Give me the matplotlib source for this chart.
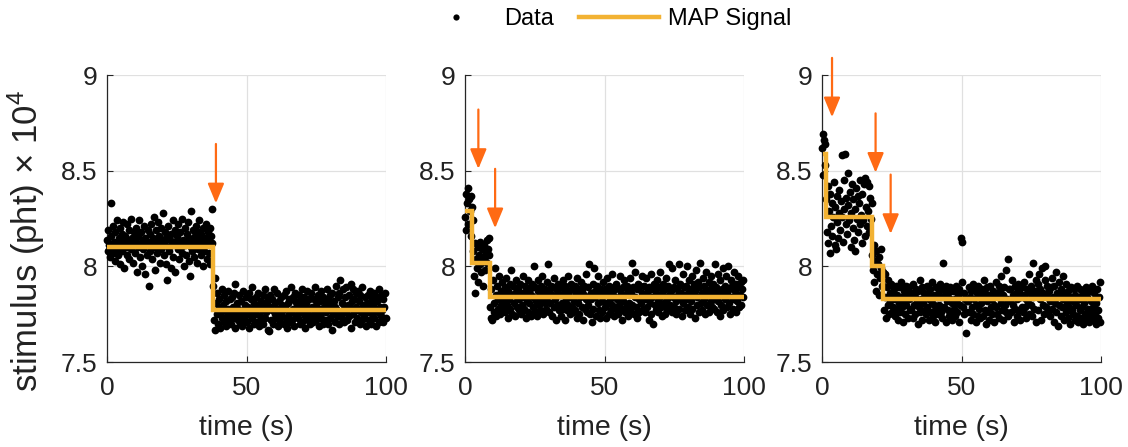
import numpy as np
import matplotlib
matplotlib.use("Agg")
import matplotlib.pyplot as plt

plt.rcParams['font.family'] = ['Liberation Sans', 'DejaVu Sans']
plt.rcParams['mathtext.fontset'] = 'custom'
plt.rcParams['mathtext.rm'] = 'Liberation Sans'
plt.rcParams['mathtext.it'] = 'Liberation Sans:italic'

# sampling period of the recordings (s)
dt = 0.25

# stimulus samples, in units of 1e2 (x 1e4 pht on the axis)
data_1 = [
    814, 808, 819, 811, 805, 816, 833, 810, 807, 821, 813, 803, 818, 809, 824, 812, 806, 815, 820, 801,
    811, 817, 808, 823, 813, 799, 816, 810, 822, 806, 814, 819, 804, 812, 825, 809, 815, 802, 818, 811,
    807, 820, 813, 797, 816, 810, 824, 805, 812, 818, 800, 814, 809, 821, 796, 815, 811, 806, 819, 813,
    790, 817, 808, 822, 812, 804, 815, 826, 810, 798, 819, 813, 807, 823, 811, 816, 802, 820, 809, 814,
    828, 806, 812, 818, 801, 815, 793, 810, 821, 808, 814, 799, 817, 811, 824, 805, 813, 819, 797, 812,
    816, 809, 822, 804, 813, 818, 810, 825, 807, 814, 800, 820, 811, 806, 817, 812, 823, 803, 815, 795,
    810, 829, 808, 819, 813, 805, 816, 821, 811, 802, 818, 809, 824, 814, 806, 817, 812, 800, 820, 808,
    815, 811, 822, 804, 818, 813, 807, 820, 801, 816, 830, 812,
    790, 772, 794, 767, 781, 775, 786, 770, 779, 783, 768, 776, 788, 773, 780, 771, 785, 777, 769, 782,
    774, 787, 778, 771, 783, 776, 770, 784, 779, 773, 786, 768, 791, 775, 781, 772, 778, 785, 770, 776,
    782, 774, 769, 787, 777, 780, 772, 784, 775, 771, 779, 786, 768, 776, 783, 773, 789, 778, 770, 781,
    775, 784, 771, 778, 786, 769, 780, 774, 782, 772, 777, 785, 770, 779, 788, 773, 776, 781, 767, 783,
    766, 779, 785, 772, 777, 783, 770, 788, 775, 781, 773, 778, 786, 769, 782, 776, 771, 784, 774, 780,
    777, 770, 785, 779, 773, 787, 768, 781, 775, 783, 771, 789, 776, 772, 784, 778, 769, 782, 786, 774,
    780, 773, 777, 785, 770, 782, 776, 788, 771, 779, 784, 774, 768, 781, 787, 775, 772, 783, 778, 770,
    786, 774, 779, 771, 783, 777, 789, 772, 780, 775, 785, 769, 778, 782, 773, 787, 776, 770, 784, 779,
    772, 781, 776, 788, 770, 783, 778, 785, 773, 780, 767, 786, 775, 782, 771, 779, 790, 774, 777, 784,
    770, 786, 793, 775, 781, 773, 788, 778, 771, 784, 776, 789, 772, 780, 785, 774, 779, 791, 768, 782,
    788, 775, 783, 771, 786, 779, 773, 787, 777, 782, 770, 785, 776, 789, 772, 780, 774, 784, 778, 769,
    781, 776, 785, 772, 779, 787, 770, 783, 775, 780, 786, 773, 778, 784, 769, 782, 776, 788, 771, 779,
    774, 785, 777, 771, 783, 779, 786, 773,
]

data_2 = [
    826, 838, 819, 833, 841, 822, 835, 829, 816, 837, 831, 824,
    808, 795, 812, 786, 804, 799, 810, 792, 806, 801, 813, 797, 809, 803, 790, 811, 805, 798, 807, 814,
    802, 809, 815, 806,
    779, 773, 788, 772, 793, 781, 776, 799, 785, 774, 790, 778, 783, 795, 775, 787, 780, 792, 777, 786,
    782, 789, 776, 794, 780, 773, 787, 783, 791, 778, 798, 785, 775, 790, 781, 786, 774, 793, 779, 784,
    788, 777, 783, 791, 775, 786, 780, 795, 778, 784, 790, 773, 787, 782, 776, 793, 781, 788, 774, 785,
    791, 779, 784, 800, 776, 789, 782, 774, 787, 793, 780, 785, 777, 790, 783, 795, 775, 786, 781, 788,
    778, 792, 784, 801, 776, 787, 781, 790, 774, 785, 789, 779, 794, 783, 772, 788, 780, 786, 791, 777,
    785, 774, 789, 781, 793, 778, 786, 772, 790, 783, 777, 795, 780, 787, 775, 784, 791, 779, 788, 776,
    782, 790, 777, 786, 773, 794, 781, 788, 775, 784, 792, 779, 787, 772, 785, 790, 778, 783, 796, 776,
    789, 780, 801, 775, 786, 783, 771, 791, 778, 799, 784, 787, 774, 790, 781, 795, 777, 785, 773, 788,
    782, 776, 792, 785, 779, 788, 773, 794, 781, 786, 775, 790, 783, 777, 796, 780, 787, 774, 789, 784,
    778, 791, 783, 775, 788, 780, 795, 777, 786, 772, 789, 782, 793, 776, 785, 779, 790, 774, 787, 781,
    794, 777, 786, 802, 780, 789, 775, 784, 797, 779, 788, 773, 791, 783, 776, 790, 781, 786, 795, 778,
    785, 790, 776, 783, 794, 779, 787, 772, 789, 781, 796, 775, 784, 788, 770, 791, 780, 786, 777, 793,
    782, 776, 789, 784, 797, 779, 786, 774, 791, 781, 788, 775, 794, 783, 778, 790, 785, 801, 780, 787,
    776, 799, 784, 789, 779, 793, 782, 775, 788, 785, 801, 778, 791, 783, 786, 774, 796, 781, 789, 777,
    790, 783, 800, 779, 786, 793, 775, 788, 782, 795, 778, 785, 791, 773, 787, 798, 780, 784, 792, 776,
    789, 802, 781, 786, 777, 794, 783, 790, 775, 787, 797, 780, 785, 792, 776, 788, 782, 795, 779, 786,
    791, 778, 801, 784, 789, 776, 796, 782, 787, 774, 793, 780, 788, 799, 777, 785, 790, 783, 795, 779,
    786, 800, 781, 788, 775, 793, 784, 790, 778, 797, 783, 787, 776, 791, 782, 795, 779, 789, 785, 792,
    780, 788, 793, 784,
]

data_3 = [
    862, 869, 848, 866, 853, 864,
    835, 818, 842, 812, 829, 807, 838, 821, 833, 816,
    826, 844, 811, 831, 809, 837, 823, 815, 840, 828,
    819, 834, 858, 826, 813, 845, 830, 859, 822, 836,
    817, 832, 849, 824, 839, 810, 828, 843, 820, 835,
    814, 830, 808, 841, 825, 837, 818, 833, 822, 845,
    827, 812, 838, 824, 843, 816, 846, 831, 821, 844,
    829, 842, 818, 836, 825, 833,
    806, 798, 811, 792, 803, 787, 808, 796, 801, 785, 805, 794, 809, 799, 790, 797,
    790, 777, 796, 784, 773, 789, 780, 793, 775, 786, 782, 791, 776, 785, 779, 788, 774, 783, 790, 778,
    785, 772, 789, 781, 776, 792, 779, 784, 771, 787, 782, 775, 790, 780, 786, 773, 783, 789, 777, 784,
    778, 786, 773, 791, 780, 784, 775, 788, 782, 770, 787, 779, 793, 776, 783, 789, 772, 781, 786, 777,
    784, 775, 790, 779, 786, 772, 783, 788, 776, 781, 792, 774, 785, 780, 771, 789, 778, 784, 775, 787,
    780, 791, 776, 784, 773, 788, 802, 779, 785, 771, 790, 782, 777, 786, 774, 783, 789, 776, 781, 772,
    787, 778, 783, 774, 790, 781, 776, 785, 771, 788, 780, 815, 813, 792, 779, 786, 775, 783, 776, 765,
    782, 782, 789, 776, 784, 772, 787, 779, 791, 775, 783, 788, 771, 780, 786, 774, 790, 778, 785, 773,
    781, 788, 774, 784, 793, 777, 786, 770, 782, 789, 776, 785, 772, 790, 779, 783, 775, 787, 780, 771,
    786, 779, 792, 775, 784, 790, 773, 787, 781, 795, 777, 785, 772, 789, 780, 798, 776, 783, 804, 774,
    788, 782, 788, 776, 793, 780, 785, 771, 790, 778, 786, 774, 783, 791, 777, 787, 772, 784, 779, 789,
    776, 785, 792, 779, 783, 773, 788, 781, 796, 775, 786, 780, 790, 774, 784, 802, 778, 787, 793, 771,
    785, 791, 777, 796, 783, 788, 772, 799, 780, 786, 775, 793, 800, 779, 784, 790, 776, 787, 782, 774,
    789, 778, 794, 784, 771, 790, 781, 797, 776, 786, 769, 792, 780, 785, 774, 788, 779, 795, 783, 772,
    786, 776, 791, 781, 773, 787, 779, 784, 770, 789, 777, 782, 775, 788, 772, 785, 780, 774, 790, 771,
    783, 777, 788, 773, 785, 779, 770, 786, 781, 775, 789, 772, 784, 778, 771, 787, 776, 782, 774, 790,
    779, 772, 786, 775, 781, 770, 788, 777, 773, 784, 771, 792,
]

# MAP step estimates: change-point times and the level between them
map_edges_1 = [0, 38, 100]
map_levels_1 = [8.10, 7.77]
map_edges_2 = [0, 2.7, 9.0, 100]
map_levels_2 = [8.29, 8.02, 7.84]
map_edges_3 = [0.5, 1.6, 18, 22, 100]
map_levels_3 = [8.59, 8.26, 8.00, 7.83]

# detected change points marked by arrows: (time, arrow top, arrow tip)
arrows_1 = [(39, 8.64, 8.33)]
arrows_2 = [(4.8, 8.82, 8.51), (10.8, 8.51, 8.20)]
arrows_3 = [(3.6, 9.09, 8.78), (19.2, 8.80, 8.49), (24.6, 8.48, 8.17)]

x_ticks = [0, 50, 100]
y_ticks = [7.5, 8, 8.5, 9]

panels = [
    (data_1, map_edges_1, map_levels_1, arrows_1),
    (data_2, map_edges_2, map_levels_2, arrows_2),
    (data_3, map_edges_3, map_levels_3, arrows_3),
]
lefts = [0.0949, 0.4122, 0.7287]

map_color = '#F2B233'
arrow_color = '#FF6A14'
axis_color = '#262626'

fig = plt.figure(figsize=(11.28, 4.47), dpi=100)

for i, (vals, edges, levels, arrows) in enumerate(panels):
    ax = fig.add_axes([lefts[i], 0.19, 0.2475, 0.642])
    t = np.arange(len(vals)) * dt
    y = np.array(vals) / 100.0
    pts, = ax.plot(t, y, 'o', color='k', markersize=5.6, markeredgewidth=0,
                   zorder=3, clip_on=False)
    sig = ax.stairs(levels, edges, baseline=None, color=map_color,
                    linewidth=3.2, zorder=4)
    for (ta, y0, y1) in arrows:
        ax.annotate('', xy=(ta, y1), xytext=(ta, y0),
                    arrowprops=dict(arrowstyle='-|>,head_length=0.6,head_width=0.25',
                                    color=arrow_color, lw=1.6, mutation_scale=20,
                                    shrinkA=0, shrinkB=0),
                    annotation_clip=False, zorder=5)

    ax.set_xlim(0, 100)
    ax.set_ylim(7.5, 9)
    ax.set_xticks(x_ticks)
    ax.set_yticks(y_ticks)
    ax.set_yticklabels(['7.5', '8', '8.5', '9'])
    ax.grid(True, color='#E0E0E0', linewidth=0.9, zorder=0)
    ax.set_axisbelow(True)
    for s in ['top', 'right']:
        ax.spines[s].set_visible(False)
    for s in ['left', 'bottom']:
        ax.spines[s].set_color(axis_color)
        ax.spines[s].set_linewidth(0.9)
    ax.tick_params(direction='in', length=4, width=0.8, color=axis_color,
                   labelsize=19, labelcolor='#222222')
    ax.tick_params(axis='x', pad=10)
    ax.tick_params(axis='y', pad=7)
    ax.set_xlabel('time (s)', fontsize=20.5, color='#222222', labelpad=11)
    if i == 0:
        ax.set_ylabel('stimulus (pht) × $10^4$', fontsize=25, color='#222222')
        ax.yaxis.set_label_coords(-0.215, 0.42)

fig.legend([pts, sig], ['Data', 'MAP Signal'], loc='center',
           bbox_to_anchor=(0.535, 0.958), ncol=2, frameon=False, fontsize=17,
           handlelength=3.4, handletextpad=0.35, columnspacing=1.05,
           markerscale=0.8)

fig.savefig('out.png', dpi=100)
